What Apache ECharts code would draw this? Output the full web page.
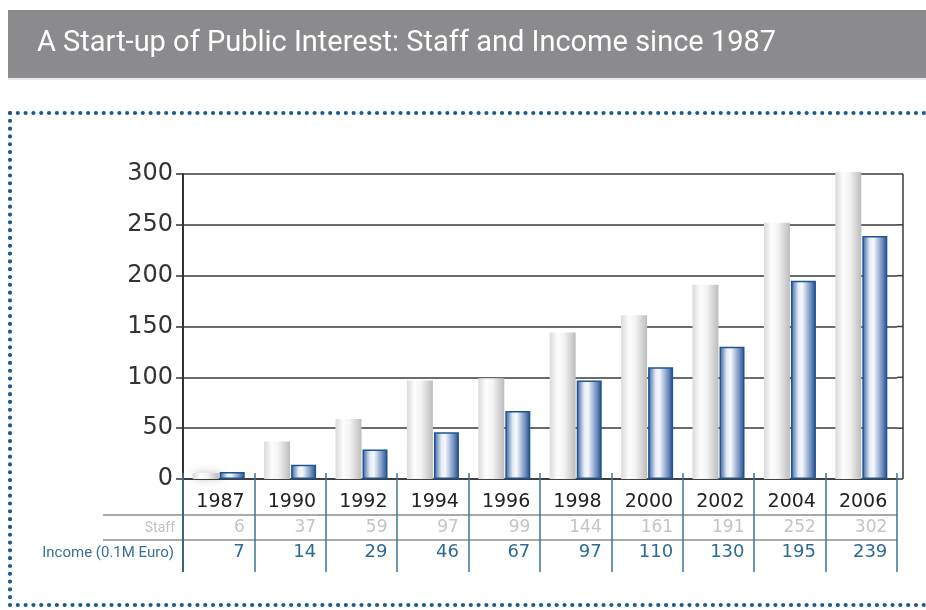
<!DOCTYPE html>
<html><head><meta charset="utf-8">
<script src="https://cdn.jsdelivr.net/npm/echarts@6/dist/echarts.min.js"></script>
<style>html,body{margin:0;padding:0;background:#fff}#c{width:926px;height:610px}</style>
</head><body><div id="c"></div>
<script>
var years = ['1987','1990','1992','1994','1996','1998','2000','2002','2004','2006'];
var staff = [6, 37, 59, 97, 99, 144, 161, 191, 252, 302];
var income = [7, 14, 29, 46, 67, 97, 110, 130, 195, 239];
var yTicks = [0, 50, 100, 150, 200, 250, 300];
var titleText = 'A Start-up of Public Interest: Staff and Income since 1987';
var rowLabels = ['Staff', 'Income (0.1M Euro)'];

var chart = echarts.init(document.getElementById('c'), null, {renderer: 'canvas'});
var numFont = 'DejaVu Sans';
var staffGrad = new echarts.graphic.LinearGradient(0,0,1,0,[
  {offset:0,color:'#dadada'},{offset:0.3,color:'#fdfdfd'},{offset:0.55,color:'#f3f3f3'},{offset:1,color:'#bcbcbc'}]);
var incGrad = new echarts.graphic.LinearGradient(0,0,1,0,[
  {offset:0,color:'#2f5f9c'},{offset:0.3,color:'#e6edf8'},{offset:0.45,color:'#f6f8fc'},{offset:0.8,color:'#6f8dbf'},{offset:1,color:'#254b86'}]);

var option = {
  animation: false,
  grid: {left:183, right:29, top:174, bottom:131},
  xAxis: [{
    type:'category', data: years, position:'bottom',
    axisLine:{show:true, lineStyle:{color:'#333', width:1.5}},
    axisTick:{show:true, inside:false, length:93, interval:0, lineStyle:{color:'#3d7599', width:1.5}},
    axisLabel:{
      interval:0, margin:11,
      formatter:function(v, i){ return '{y|'+v+'}\n{s|'+staff[i]+'}\n{i|'+income[i]+'}'; },
      rich:{
        y:{fontFamily:numFont, fontSize:19, color:'#222', width:52, align:'right', lineHeight:25},
        s:{fontFamily:numFont, fontSize:17, color:'#c4c4c4', width:52, align:'right', lineHeight:25},
        i:{fontFamily:numFont, fontSize:18, color:'#2d6a94', width:52, align:'right', lineHeight:25}
      }
    }
  },{
    type:'category', data: years, position:'bottom', offset:0,
    axisLine:{show:false},
    axisTick:{show:true, inside:true, length:6, interval:0, lineStyle:{color:'#3d7599', width:1.5}},
    axisLabel:{show:false}
  }],
  yAxis: {
    type:'value', min:0, max:300, interval:50,
    axisLine:{show:true, lineStyle:{color:'#333', width:2}},
    axisTick:{show:true, length:7, lineStyle:{color:'#333', width:1.5}},
    axisLabel:{margin:10, fontFamily:numFont, fontSize:24, color:'#333',
      formatter:function(v){ return yTicks.indexOf(v) >= 0 ? String(v) : ''; }},
    splitLine:{show:true, lineStyle:{color:'#3a3a3a', width:1.5}}
  },
  series: [{
    name:'Staff', type:'bar', data: staff, barWidth:26, barGap:'4%', barCategoryGap:'27%', clip:false,
    itemStyle:{color:staffGrad, shadowBlur:9, shadowColor:'rgba(0,0,0,0.25)', shadowOffsetX:2}
  },{
    name:'Income', type:'bar', data: income, barWidth:25, barGap:'4%', clip:false,
    itemStyle:{color:incGrad, borderColor:'#1e5590', borderWidth:1.5}
  }],
  graphic: []
};
chart.setOption(option);

var g = [];
// title bar
g.push({type:'rect', shape:{x:8,y:10,width:918,height:68}, style:{fill:'#8b8b8d'}, silent:true});
g.push({type:'line', shape:{x1:8,y1:79,x2:926,y2:79}, style:{stroke:'#d4d4d4', lineWidth:1}});
g.push({type:'text', x:37, y:44, style:{text:titleText, fill:'#ffffff', font:'29px Roboto', textVerticalAlign:'middle'}});
// dotted border
var dot = {stroke:'#1d5b8c', lineWidth:4.2, lineCap:'round', lineDash:[0.01, 7.8]};
g.push({type:'line', shape:{x1:10,y1:113,x2:926,y2:113}, style:dot});
g.push({type:'line', shape:{x1:10,y1:113,x2:10,y2:605}, style:dot});
g.push({type:'line', shape:{x1:10,y1:605,x2:926,y2:605}, style:dot});
// plot right border and gridline stubs
var yTop = chart.convertToPixel({yAxisIndex:0}, 300);
var yBot = chart.convertToPixel({yAxisIndex:0}, 0);
g.push({type:'line', shape:{x1:903,y1:yTop,x2:903,y2:yBot}, style:{stroke:'#3a3a3a', lineWidth:1.5}});
yTicks.forEach(function(t){
  var py = chart.convertToPixel({yAxisIndex:0}, t);
  g.push({type:'line', shape:{x1:897,y1:py,x2:903,y2:py}, style:{stroke:'#3a3a3a', lineWidth:1.5}});
});
// table lines
g.push({type:'line', shape:{x1:183,y1:yBot,x2:183,y2:572}, style:{stroke:'#333', lineWidth:2}});
g.push({type:'line', shape:{x1:103,y1:515,x2:897,y2:515}, style:{stroke:'#555', lineWidth:1}});
g.push({type:'line', shape:{x1:103,y1:540,x2:897,y2:540}, style:{stroke:'#555', lineWidth:1}});
g.push({type:'text', x:175, y:528, style:{text:rowLabels[0], fill:'#c2c2c2', font:'14px Roboto', textAlign:'right', textVerticalAlign:'middle'}});
g.push({type:'text', x:174, y:553, style:{text:rowLabels[1], fill:'#3a6f95', font:'15px Roboto', textAlign:'right', textVerticalAlign:'middle'}});
chart.setOption({graphic: g});
</script></body></html>
